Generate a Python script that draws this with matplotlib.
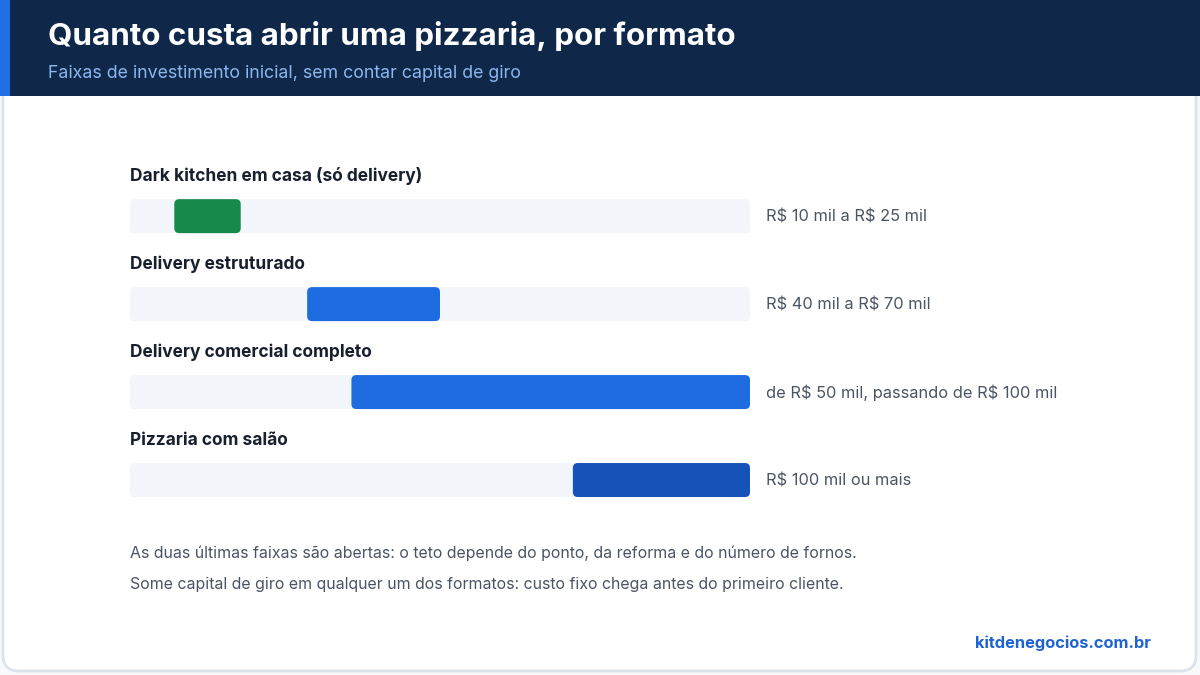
import matplotlib
matplotlib.use("Agg")
import matplotlib.pyplot as plt
from matplotlib.patches import FancyBboxPatch, Rectangle
from matplotlib import transforms

# dados (mil R$)
formatos = ["Dark kitchen em casa (só delivery)", "Delivery estruturado",
            "Delivery comercial completo", "Pizzaria com salão"]
minimo = [10, 40, 50, 100]
maximo = [25, 70, None, None]   # None = faixa aberta
rotulos = ["R$ 10 mil a R$ 25 mil", "R$ 40 mil a R$ 70 mil",
           "de R$ 50 mil, passando de R$ 100 mil", "R$ 100 mil ou mais"]
cores = ["#17894a", "#1f6be0", "#1f6be0", "#1653b9"]
escala_max = 140

titulo = "Quanto custa abrir uma pizzaria, por formato"
subtitulo = "Faixas de investimento inicial, sem contar capital de giro"
notas = ["As duas últimas faixas são abertas: o teto depende do ponto, da reforma e do número de fornos.",
         "Some capital de giro em qualquer um dos formatos: custo fixo chega antes do primeiro cliente."]
fonte = "kitdenegocios.com.br"

plt.rcParams['font.family'] = ['Inter', 'DejaVu Sans']
plt.rcParams['text.parse_math'] = False  # "R$" sem mathtext

W, H = 1200, 675
fig = plt.figure(figsize=(12, 6.75), dpi=100, facecolor="#f7f9fb")

# fundo em pixels
bg = fig.add_axes([0, 0, 1, 1], zorder=0)
bg.set_xlim(0, W)
bg.set_ylim(H, 0)
bg.axis("off")
bg.add_patch(FancyBboxPatch((3, -20), W - 7, 691,
                            boxstyle="round,pad=0,rounding_size=16",
                            fc="white", ec="#dce3ec", lw=2))
bg.add_patch(Rectangle((0, 0), W, 96, fc="#0f2849", ec="none"))
bg.add_patch(Rectangle((0, 0), 10, 96, fc="#1f6fe3", ec="none"))
bg.text(48, 36, titulo, color="white", fontsize=22.6, fontweight="bold", va="center")
bg.text(48, 73, subtitulo, color="#8db6ee", fontsize=12.8, va="center")
for i, n in enumerate(notas):
    bg.text(130, 553 + 32 * i, n, color="#4a5463", fontsize=11.45, va="center")
bg.text(1151, 643, fonte, color="#1f63d2", fontsize=11.8, fontweight="bold",
        va="center", ha="right")

# barras
top_px, bot_px = 137, 524
ax = fig.add_axes([130 / W, (H - bot_px) / H, 620 / W, (bot_px - top_px) / H], zorder=1)
ax.set_xlim(0, escala_max)
ax.set_ylim(3.5, -0.9)
ax.axis("off")
ax.patch.set_alpha(0)

px_x = escala_max / 620
px_y = 4.4 / (bot_px - top_px)
asp = px_y / px_x
alt = 34 * px_y
raio = 5 * px_x

dx = transforms.offset_copy(ax.transData, fig=fig, x=16, y=0, units="dots")
for i in range(len(formatos)):
    ax.add_patch(FancyBboxPatch((0, i - alt / 2), escala_max, alt,
                                boxstyle=f"round,pad=0,rounding_size={raio}",
                                mutation_aspect=asp, fc="#f2f6fb", ec="none"))
    fim = maximo[i] if maximo[i] is not None else escala_max
    ax.add_patch(FancyBboxPatch((minimo[i], i - alt / 2), fim - minimo[i], alt,
                                boxstyle=f"round,pad=0,rounding_size={raio}",
                                mutation_aspect=asp, fc=cores[i], ec="none"))
    ax.text(0, i - 40 * px_y, formatos[i], color="#18202e", fontsize=12.5,
            fontweight="bold", va="center", ha="left")
    ax.text(escala_max, i + 1 * px_y, rotulos[i], color="#4a5463", fontsize=11.8,
            va="center", ha="left", transform=dx)

fig.savefig("out.png", dpi=100, facecolor=fig.get_facecolor())
